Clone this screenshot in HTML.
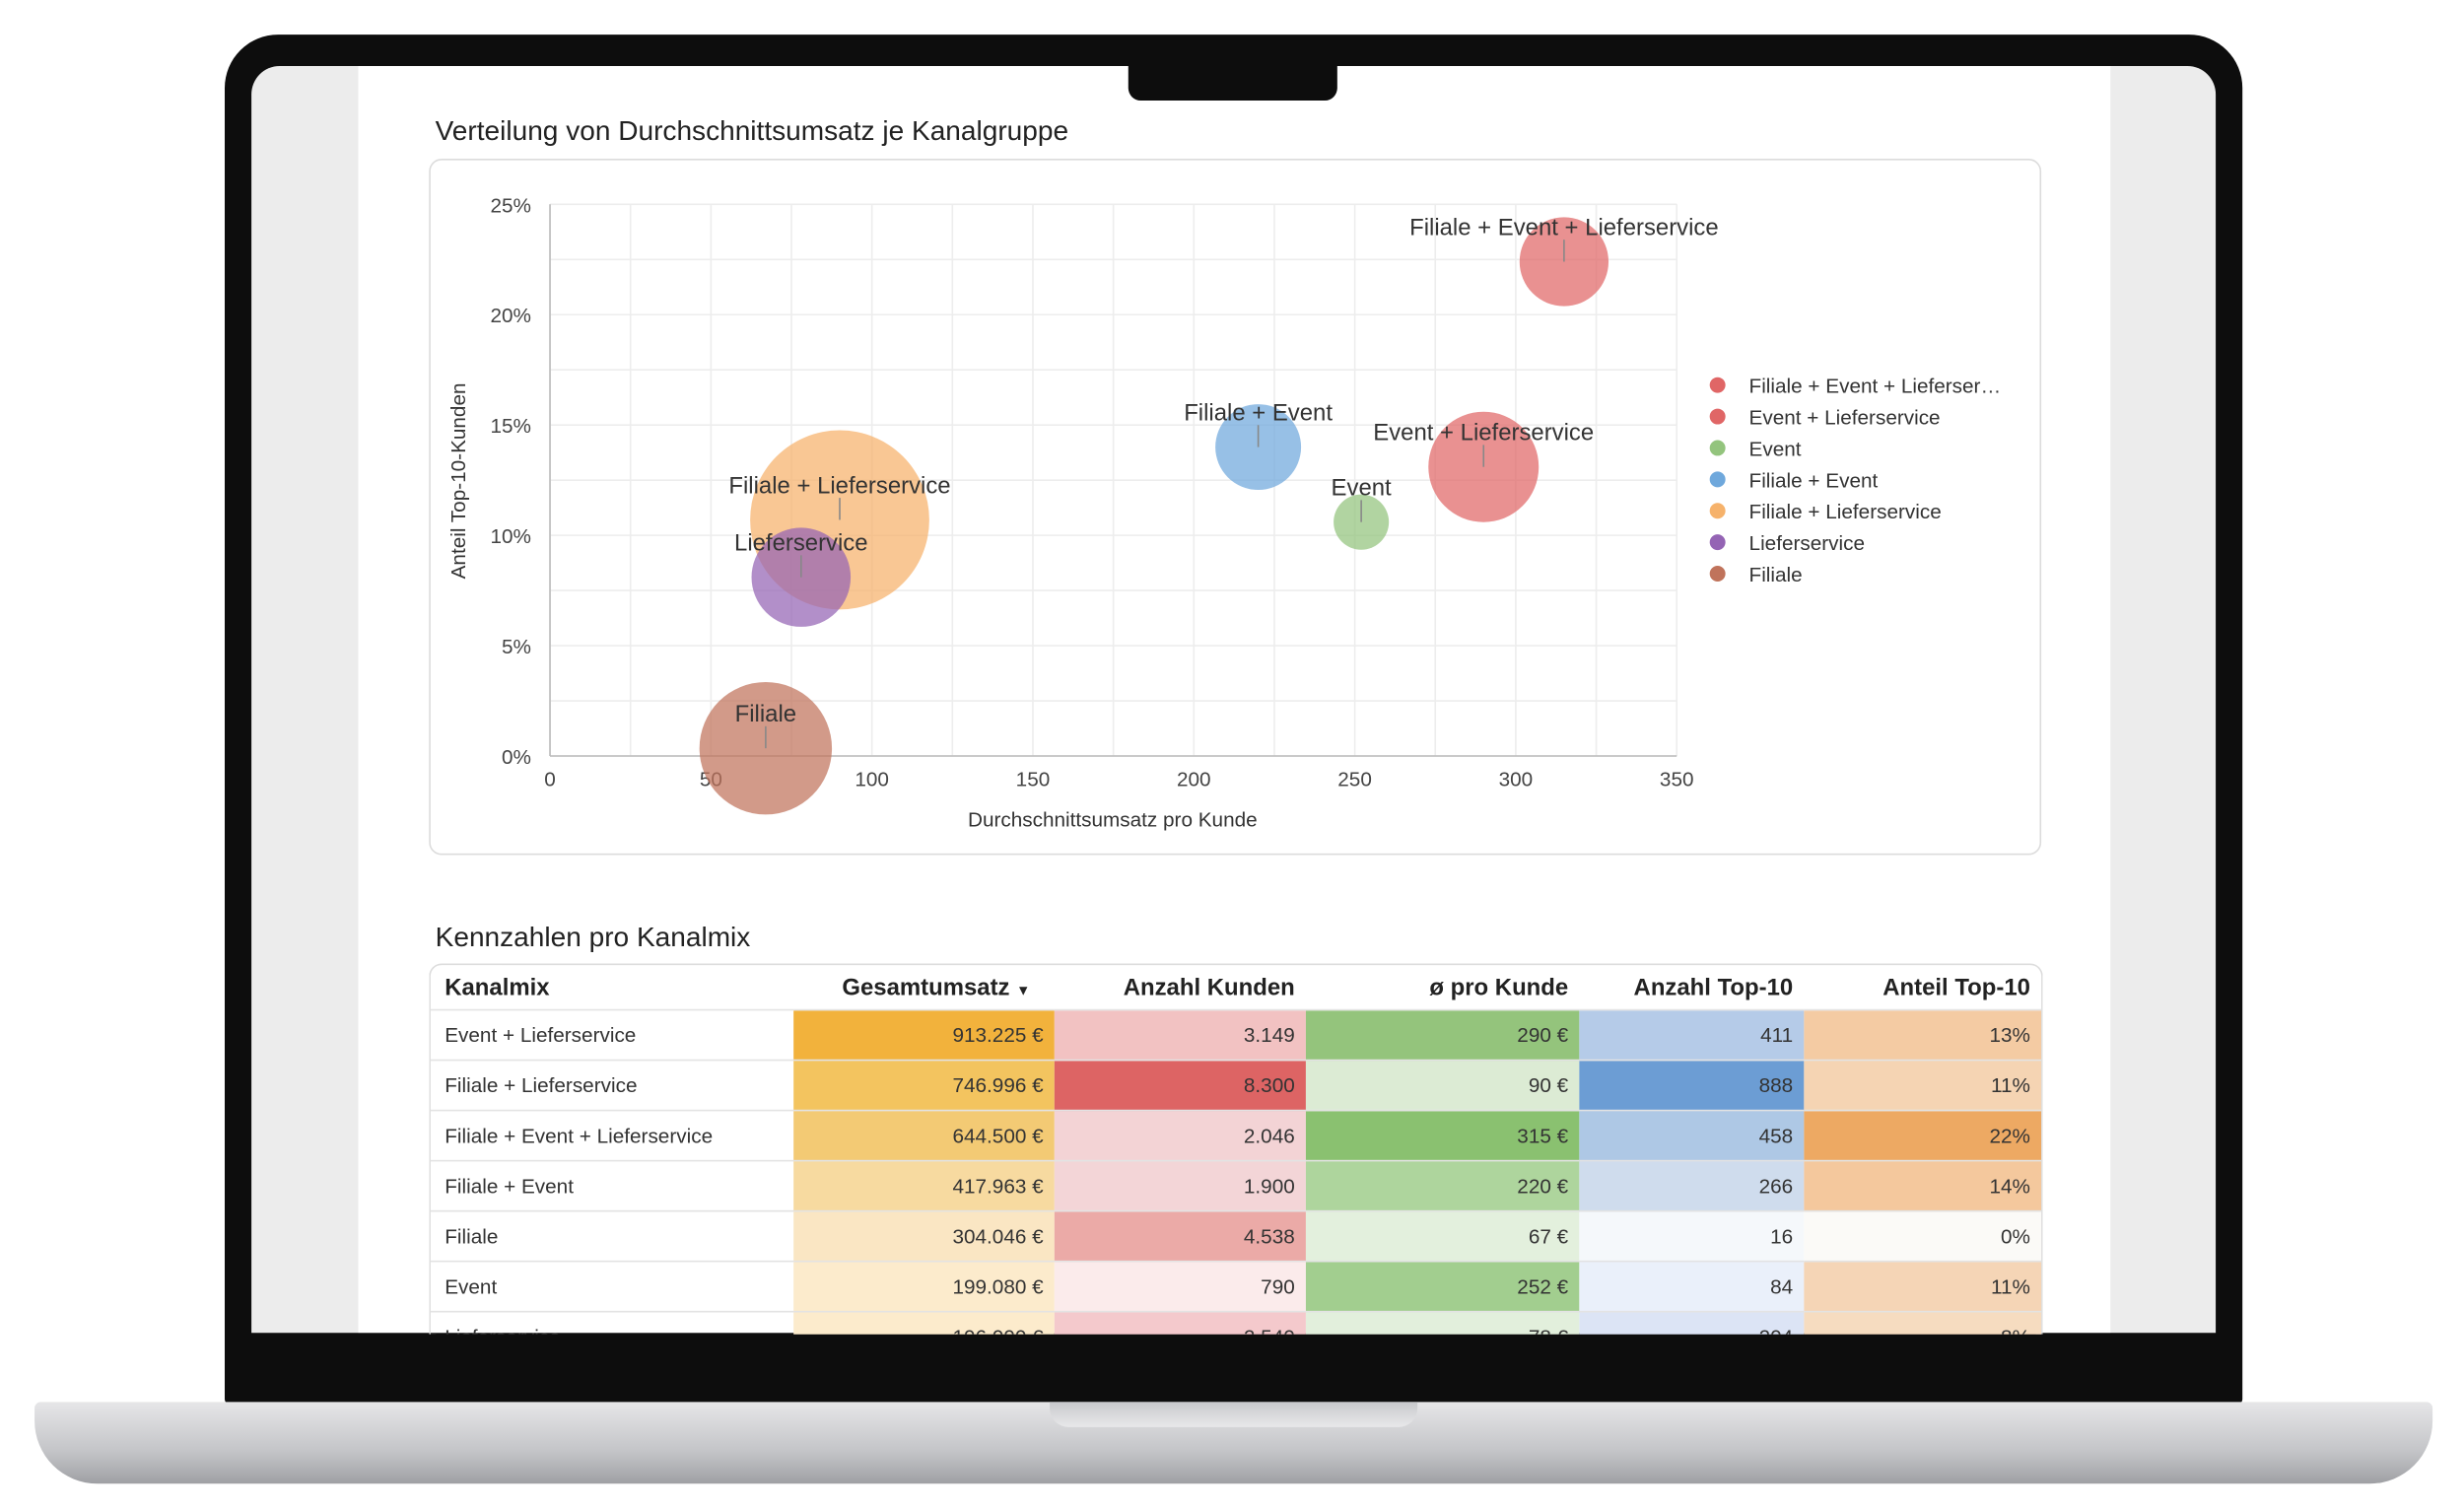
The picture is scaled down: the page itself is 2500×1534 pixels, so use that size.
<!DOCTYPE html>
<html><head><meta charset="utf-8">
<style>
html,body{margin:0;padding:0;background:#fff;width:2500px;height:1534px;overflow:hidden;font-family:"Liberation Sans",Arial,sans-serif;}
#wrap{position:absolute;left:0;top:0;width:1568px;height:962px;transform:scale(1.59439,1.59459);transform-origin:0 0;}
.abs{position:absolute;}
#bezel{left:143px;top:22px;width:1284px;height:872px;background:#0d0d0d;border-radius:34px 34px 4px 4px;}
#screen{left:160px;top:42px;width:1250px;height:806px;background:#ececec;overflow:hidden;border-radius:18px 18px 0 0;}
#page{left:68px;top:0;width:1115px;height:806px;background:#fff;}
#notch{left:718px;top:42px;width:133px;height:22px;background:#0d0d0d;border-radius:0 0 8px 8px;}
#base{left:22px;top:892px;width:1526px;height:52px;background:linear-gradient(#e6e6e8,#c4c5c8 60%,#9fa0a4);border-radius:4px 4px 40px 40px;}
#groove{left:668px;top:892px;width:234px;height:16px;background:linear-gradient(#c8c9cc,#e8e8ea);border-radius:0 0 12px 12px;}
.title{font-size:17.6px;color:#222;}
#card{left:273px;top:101px;width:1024px;height:441px;border:1px solid #dcdcdc;border-radius:8px;}
table{border-collapse:collapse;font-size:13px;color:#333;}
#tbl{left:273px;top:613px;width:1025px;border:1px solid #dcdcdc;border-bottom:none;border-radius:8px 8px 0 0;overflow:hidden;height:235px;}
th{font-weight:bold;font-size:15px;color:#222;height:28px;padding:0 7px;text-align:right;}
td{height:31px;border-top:1px solid #e3e3e3;padding:0 7px;text-align:right;}
td.n,th.n{text-align:left;padding-left:9px;}
</style></head><body>
<div id="wrap">
<div id="bezel" class="abs"></div>
<div id="screen" class="abs">
 <div id="page" class="abs"></div>
</div>
<div id="notch" class="abs"></div>
<div id="base" class="abs"></div>
<div id="groove" class="abs"></div>

<div class="abs title" style="left:277px;top:73px">Verteilung von Durchschnittsumsatz je Kanalgruppe</div>
<div id="card" class="abs"></div>
<svg id="chart" class="abs" style="left:0;top:0" width="1568" height="962"></svg>

<div class="abs title" style="left:277px;top:586px">Kennzahlen pro Kanalmix</div>
<div id="tbl" class="abs">
<table style="width:1025px">
<colgroup><col style="width:231px"><col style="width:166px"><col style="width:160px"><col style="width:174px"><col style="width:143px"><col style="width:151px"></colgroup>
<tr>
<th class="n">Kanalmix</th>
<th>Gesamtumsatz <span style="font-size:9px">▼</span>&nbsp;&nbsp;</th>
<th>Anzahl Kunden</th>
<th>ø pro Kunde</th>
<th>Anzahl Top-10</th>
<th>Anteil Top-10</th></tr>
<tr><td class="n">Event + Lieferservice</td><td style="background:#f2b23c">913.225 €</td><td style="background:#f2c2c2">3.149</td><td style="background:#94c47c">290 €</td><td style="background:#b5cbe8">411</td><td style="background:#f4cba3">13%</td></tr>
<tr><td class="n">Filiale + Lieferservice</td><td style="background:#f3c45f">746.996 €</td><td style="background:#dd6464">8.300</td><td style="background:#dcebd4">90 €</td><td style="background:#6c9dd4">888</td><td style="background:#f5d4b3">11%</td></tr>
<tr><td class="n">Filiale + Event + Lieferservice</td><td style="background:#f3ca74">644.500 €</td><td style="background:#f3d3d5">2.046</td><td style="background:#8ac170">315 €</td><td style="background:#aec8e5">458</td><td style="background:#eda963">22%</td></tr>
<tr><td class="n">Filiale + Event</td><td style="background:#f7daa0">417.963 €</td><td style="background:#f3d5d7">1.900</td><td style="background:#aed59d">220 €</td><td style="background:#cfdced">266</td><td style="background:#f4c89d">14%</td></tr>
<tr><td class="n">Filiale</td><td style="background:#fae6c3">304.046 €</td><td style="background:#ebaaa7">4.538</td><td style="background:#e3f0dd">67 €</td><td style="background:#f5f8fb">16</td><td style="background:#fbfaf7">0%</td></tr>
<tr><td class="n">Event</td><td style="background:#fcebcc">199.080 €</td><td style="background:#fbebeb">790</td><td style="background:#a2ce8f">252 €</td><td style="background:#eaf0fa">84</td><td style="background:#f5d5b6">11%</td></tr>
<tr><td class="n">Lieferservice</td><td style="background:#fcebcc">196.090 €</td><td style="background:#f4c9cc">2.540</td><td style="background:#e2efdc">78 €</td><td style="background:#dce4f5">204</td><td style="background:#f6dcc0">8%</td></tr>
</table></div>
</div>
<script>
const categories=["Filiale + Event + Lieferservice","Event + Lieferservice","Event","Filiale + Event","Filiale + Lieferservice","Lieferservice","Filiale"];
const avgPerCustomer=[315,290,252,220,90,78,67];
const shareTop10=[22.4,13.1,10.6,14.0,10.7,8.1,0.35];
const customers=[2046,3149,790,1900,8300,2540,4538];
const colors=["#e06666","#e06666","#93c47d","#6fa8dc","#f6b26b","#9464b4","#c0735b"];
const xTicks=[0,50,100,150,200,250,300,350];
const yTicks=[0,5,10,15,20,25];
const legendLabels=["Filiale + Event + Lieferser…","Event + Lieferservice","Event","Filiale + Event","Filiale + Lieferservice","Lieferservice","Filiale"];
const NS="http://www.w3.org/2000/svg";
const svg=document.getElementById('chart');
const X0=350,X1=1067,Y0=481,Y1=130;
const xs=v=>X0+(v-0)/(350-0)*(X1-X0);
const ys=v=>Y0-(v-0)/(25-0)*(Y0-Y1);
const rs=c=>57*Math.sqrt(c/8300);
function mk(t,a,txt){const e=document.createElementNS(NS,t);for(const k in a)e.setAttribute(k,a[k]);if(txt!==undefined)e.textContent=txt;svg.appendChild(e);return e;}
for(let v=0;v<=350;v+=25){const l=mk('line',{x1:xs(v),x2:xs(v),y1:Y1,y2:Y0,stroke:'#ededed'});

}
for(let v=0;v<=25;v+=2.5){const l=mk('line',{x1:X0,x2:X1,y1:ys(v),y2:ys(v),stroke:'#ededed'});

}
const ax=mk('line',{x1:X0,x2:X0,y1:Y1,y2:Y0,stroke:'#bbb'});


const bx=mk('line',{x1:X0,x2:X1,y1:Y0,y2:Y0,stroke:'#bbb'});


xTicks.forEach(v=>{const t=mk('text',{x:xs(v),y:Y0+19,'font-size':13,fill:'#444','text-anchor':'middle'},String(v));

});
yTicks.forEach(v=>{const t=mk('text',{x:X0-12,y:ys(v)+5,'font-size':13,fill:'#444','text-anchor':'end'},v+'%');

});
const xt=mk('text',{x:708,y:526,'font-size':13,fill:'#333','text-anchor':'middle'},'Durchschnittsumsatz pro Kunde');


const yt=mk('text',{x:0,y:0,'font-size':13,fill:'#333','text-anchor':'middle',transform:'translate(296,306) rotate(-90)'},'Anteil Top-10-Kunden');


const order=categories.map((c,i)=>i).sort((a,b)=>customers[b]-customers[a]);
order.forEach(i=>{const c=mk('circle',{cx:xs(avgPerCustomer[i]),cy:ys(shareTop10[i]),r:rs(customers[i]),fill:colors[i],'fill-opacity':0.72});

});
categories.forEach((n,i)=>{const cx=xs(avgPerCustomer[i]),cy=ys(shareTop10[i]);
const l=mk('line',{x1:cx,x2:cx,y1:cy,y2:cy-14,stroke:'#888'});


const t=mk('text',{x:cx,y:cy-17,'font-size':15,fill:'#333','text-anchor':'middle'},n);

});
legendLabels.forEach((n,i)=>{const y=245+i*20;
const d=mk('circle',{cx:1093,cy:y,r:5,fill:colors[i]});


const t=mk('text',{x:1113,y:y+5,'font-size':13,fill:'#333'},n);

});
</script>
</body></html>
